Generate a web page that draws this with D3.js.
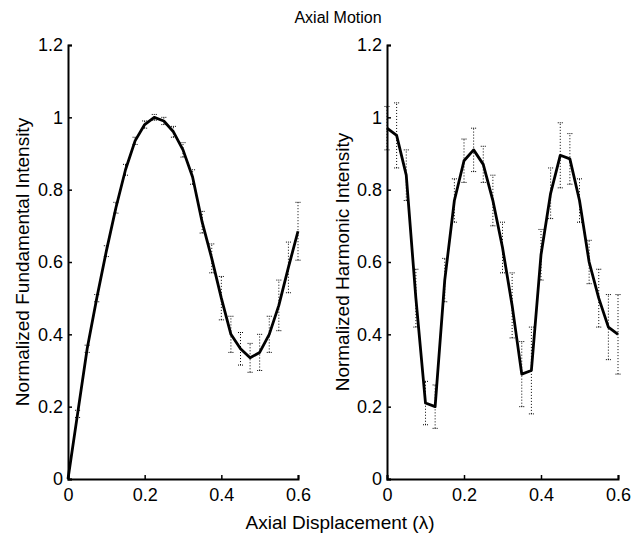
<!DOCTYPE html>
<html>
<head>
<meta charset="utf-8">
<script src="https://cdn.jsdelivr.net/npm/d3@7"></script>
<style>
  body { margin: 0; background: #fff; }
  svg { display: block; font-family: "Liberation Sans", Arial, sans-serif; }
  .axis path, .axis line { stroke: #000; }
  .axis path { stroke-width: 2px; }
  .axis line { stroke-width: 1.5px; }
  .axis text { font-size: 18px; fill: #000; }
</style>
</head>
<body>
<svg id="chart" width="638" height="538"></svg>
<script>
// displacement steps (lambda)
const displacement = [0, 0.025, 0.05, 0.075, 0.1, 0.125, 0.15, 0.175, 0.2, 0.225, 0.25, 0.275,
  0.3, 0.325, 0.35, 0.375, 0.4, 0.425, 0.45, 0.475, 0.5, 0.525, 0.55, 0.575, 0.6];

const fundamental = [0, 0.18, 0.36, 0.5, 0.63, 0.75, 0.855, 0.935, 0.98, 1.0, 0.99, 0.96,
  0.91, 0.835, 0.71, 0.61, 0.5, 0.4, 0.36, 0.335, 0.35, 0.4, 0.48, 0.585, 0.685];
const fundamentalErr = [0, 0.01, 0.01, 0.01, 0.015, 0.015, 0.015, 0.01, 0.01, 0.008, 0.01, 0.015,
  0.02, 0.02, 0.03, 0.04, 0.06, 0.05, 0.045, 0.04, 0.05, 0.05, 0.07, 0.07, 0.08];

const harmonic = [0.97, 0.95, 0.84, 0.5, 0.21, 0.2, 0.55, 0.77, 0.88, 0.91, 0.87, 0.77,
  0.64, 0.48, 0.29, 0.3, 0.62, 0.79, 0.895, 0.885, 0.77, 0.6, 0.5, 0.42, 0.4];
const harmonicErr = [0.06, 0.09, 0.07, 0.08, 0.06, 0.06, 0.06, 0.06, 0.06, 0.06, 0.05, 0.07,
  0.07, 0.09, 0.09, 0.12, 0.07, 0.07, 0.09, 0.07, 0.06, 0.06, 0.08, 0.09, 0.11];

const xTicks = [0, 0.2, 0.4, 0.6];
const yTicks = [0, 0.2, 0.4, 0.6, 0.8, 1, 1.2];

const svg = d3.select("#chart");
const plotTop = 45, plotBottom = 479;
const y = d3.scaleLinear().domain([0, 1.2]).range([plotBottom, plotTop]);

const panels = [
  { left: 68, right: 298, values: fundamental, errs: fundamentalErr, label: "Normalized Fundamental Intensity", labelX: 22 },
  { left: 387, right: 618, values: harmonic, errs: harmonicErr, label: "Normalized Harmonic Intensity", labelX: 342 }
];

panels.forEach(p => {
  const x = d3.scaleLinear().domain([0, 0.6]).range([p.left, p.right]);
  const g = svg.append("g");

  // axes, ticks pointing inward like matlab
  g.append("g")
    .attr("class", "axis")
    .attr("transform", `translate(0,${plotBottom})`)
    .call(d3.axisBottom(x).tickValues(xTicks).tickSizeInner(-4).tickSizeOuter(-4).tickPadding(9)
      .tickFormat(d3.format("~g")));

  g.append("g")
    .attr("class", "axis")
    .attr("transform", `translate(${p.left},0)`)
    .call(d3.axisLeft(y).tickValues(yTicks).tickSizeInner(-4).tickSizeOuter(-4).tickPadding(5)
      .tickFormat(d3.format("~g")));

  // error bars, dotted
  const eb = g.append("g").attr("stroke", "#000").attr("stroke-width", 1);
  displacement.forEach((d, i) => {
    const e = p.errs[i];
    if (!e) return;
    const cx = x(d);
    eb.append("line")
      .attr("x1", cx).attr("x2", cx)
      .attr("y1", y(p.values[i] - e)).attr("y2", y(p.values[i] + e))
      .attr("stroke-dasharray", "1,2");
    [p.values[i] - e, p.values[i] + e].forEach(v => {
      eb.append("line")
        .attr("x1", cx - 2.5).attr("x2", cx + 2.5)
        .attr("y1", y(v)).attr("y2", y(v))
        .attr("stroke-dasharray", "1,1");
    });
  });

  const line = d3.line().x((d, i) => x(displacement[i])).y(d => y(d));
  g.append("path")
    .datum(p.values)
    .attr("d", line)
    .attr("fill", "none")
    .attr("stroke", "#000")
    .attr("stroke-width", 2.8)
    .attr("stroke-linejoin", "round");

  g.append("text")
    .attr("transform", `translate(${p.labelX},${(plotTop + plotBottom) / 2}) rotate(-90)`)
    .attr("text-anchor", "middle")
    .attr("dominant-baseline", "central")
    .style("font-size", "19px")
    .text(p.label);
});

svg.append("text")
  .attr("x", 338).attr("y", 23)
  .attr("text-anchor", "middle")
  .style("font-size", "16px")
  .text("Axial Motion");

svg.append("text")
  .attr("x", 340).attr("y", 529)
  .attr("text-anchor", "middle")
  .style("font-size", "19px")
  .text("Axial Displacement (λ)");
</script>
</body>
</html>
